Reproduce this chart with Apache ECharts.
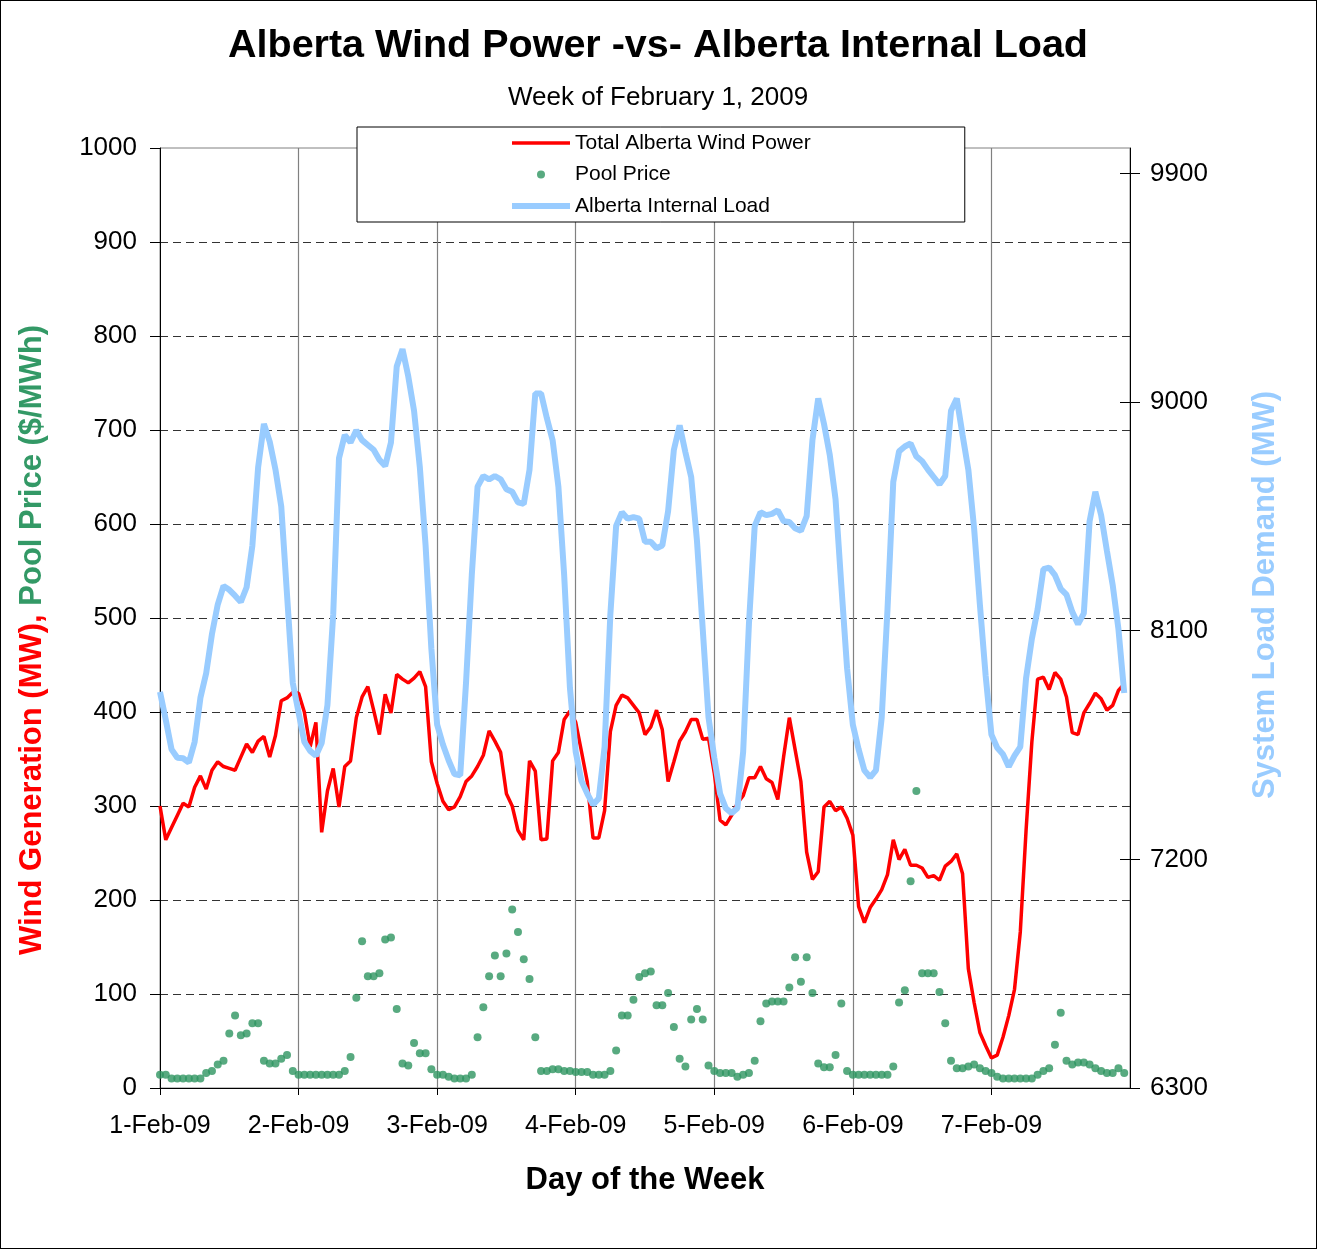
<!DOCTYPE html>
<html><head><meta charset="utf-8">
<script src="https://cdn.jsdelivr.net/npm/echarts@6/dist/echarts.min.js"></script>
<style>
html,body{margin:0;padding:0;background:#fff}
#c{position:absolute;left:0;top:0;width:1317px;height:1249px}
#frame{position:absolute;left:0;top:0;width:1317px;height:1249px;box-sizing:border-box;border:1px solid #000;pointer-events:none}
</style>
</head><body><div id="c"></div><div id="frame"></div><script>
// Day labels at each day boundary (hour 0, 24, ... 144)
const dayLabels = ['1-Feb-09','2-Feb-09','3-Feb-09','4-Feb-09','5-Feb-09','6-Feb-09','7-Feb-09'];
// Hourly Total Alberta Wind Power (MW), 168 hours
const windMW = [
 300,264,277,290,303,299,320,332,318,338,347,342,340,338,352,366,357,369,374,352,375,412,415,421,
 420,400,363,389,272,316,340,299,342,348,394,416,427,402,376,419,399,440,435,431,436,443,427,347,
 324,305,296,299,310,326,332,342,354,380,369,357,313,300,274,264,348,337,264,265,348,357,392,401,
 389,358,326,266,266,295,379,407,418,415,407,399,376,384,402,381,326,347,369,379,392,392,371,372,
 335,285,280,290,303,311,330,330,342,329,325,307,352,394,360,326,251,222,230,299,305,295,299,287,
 269,193,176,192,201,211,227,264,243,254,237,237,234,224,226,221,236,241,249,228,127,91,59,45,
 32,35,54,77,105,166,274,368,435,437,424,442,435,416,378,376,399,409,420,414,402,407,423,430
];
// Hourly Pool Price ($/MWh)
const poolPrice = [
 14,14,10,10,10,10,10,10,16,18,25,29,58,77,56,58,69,69,29,26,26,31,35,18,
 14,14,14,14,14,14,14,14,18,33,96,156,119,119,122,158,160,84,26,24,48,37,37,20,
 14,14,12,10,10,10,14,54,86,119,141,119,143,190,166,137,116,54,18,18,20,20,18,18,
 17,17,17,14,14,14,18,40,77,77,94,118,122,124,88,88,101,65,31,23,73,84,73,24,
 18,16,16,16,12,14,16,29,71,90,92,92,92,107,139,113,139,101,26,22,22,35,90,18,
 14,14,14,14,14,14,14,23,91,104,220,316,122,122,122,102,69,29,21,21,23,25,21,18,
 16,12,10,10,10,10,10,10,14,18,21,46,80,29,25,27,27,25,21,18,16,16,21,16
];
// Hourly Alberta Internal Load (MW)
const internalLoad = [
 7859,7749,7633,7600,7598,7581,7662,7836,7933,8087,8203,8276,8261,8238,8213,8271,8435,8744,8914,8844,8734,8589,8242,7894,
 7778,7662,7627,7608,7658,7807,8164,8779,8870,8841,8889,8850,8831,8812,8773,8748,8841,9140,9208,9101,8966,8744,8435,8029,
 7730,7652,7589,7536,7531,7894,8319,8667,8709,8696,8709,8696,8657,8647,8605,8599,8734,9034,9034,8937,8850,8667,8319,7875,
 7623,7508,7459,7415,7440,7643,8164,8512,8566,8541,8547,8541,8450,8450,8425,8435,8570,8812,8908,8802,8705,8454,8106,7759,
 7600,7459,7401,7382,7401,7623,8126,8512,8566,8555,8560,8574,8531,8528,8503,8493,8551,8850,9014,8914,8792,8618,8280,7952,
 7730,7633,7550,7523,7550,7759,8184,8686,8806,8825,8837,8786,8767,8734,8705,8676,8709,8966,9014,8870,8734,8503,8203,7923,
 7691,7639,7614,7565,7608,7643,7913,8068,8184,8342,8348,8319,8265,8242,8174,8126,8168,8531,8647,8555,8415,8280,8106,7855
];
const loadTicks = [6300,7200,8100,9000,9900];

const FONT = '"Liberation Sans", Arial, sans-serif';
const toPairs = arr => arr.map((v, i) => [i, v]);
const plain = v => String(v);

const chart = echarts.init(document.getElementById('c'), null, {renderer: 'canvas'});
chart.setOption({
  animation: false,
  backgroundColor: '#fff',
  textStyle: {fontFamily: FONT},
  title: [
    {text: 'Alberta Wind Power -vs- Alberta Internal Load', left: 223, top: 21,
     textStyle: {fontFamily: FONT, fontSize: 39.5, fontWeight: 'bold', color: '#000'}},
    {text: 'Week of February 1, 2009', left: 503, top: 80,
     textStyle: {fontFamily: FONT, fontSize: 26, fontWeight: 'normal', color: '#000'}}
  ],
  legend: {
    orient: 'vertical', left: 357, top: 127,
    padding: [4, 154, 4, 155],
    backgroundColor: '#fff', borderColor: '#000', borderWidth: 1, borderRadius: 0,
    itemWidth: 58, itemHeight: 8, itemGap: 7.5,
    textStyle: {fontFamily: FONT, fontSize: 21, color: '#000', lineHeight: 24},
    data: [
      {name: 'Total Alberta Wind Power', icon: 'path://M0 0H58V3.5H0Z'},
      {name: 'Pool Price', icon: 'circle'},
      {name: 'Alberta Internal Load', icon: 'path://M0 0H58V6H0Z'}
    ],
    z: 10
  },
  grid: {left: 160, top: 148, width: 970, height: 940, show: true, borderColor: '#808080', borderWidth: 1, backgroundColor: 'transparent'},
  xAxis: {
    type: 'value', min: 0, max: 168, interval: 24,
    axisLine: {show: true, lineStyle: {color: '#000', width: 1}},
    axisTick: {show: true, length: 7, lineStyle: {color: '#000'}},
    axisLabel: {margin: 26, fontSize: 25, color: '#000', fontFamily: FONT, showMaxLabel: false,
      formatter: v => dayLabels[v / 24] || ''},
    splitLine: {show: true, showMinLine: false, showMaxLine: false, lineStyle: {color: '#808080', width: 1.2, type: 'solid'}}
  },
  yAxis: [
    {type: 'value', position: 'left', min: 0, max: 1000, interval: 100,
     axisLine: {show: true, lineStyle: {color: '#000', width: 1}},
     axisTick: {show: true, length: 10, lineStyle: {color: '#000'}},
     axisLabel: {margin: 23, fontSize: 26, color: '#000', fontFamily: FONT, formatter: plain},
     splitLine: {show: true, showMinLine: false, showMaxLine: false, lineStyle: {color: '#333', width: 1, type: [8, 5]}}},
    {type: 'value', position: 'right', min: 6300, max: 10000, interval: 900,
     axisLine: {show: true, lineStyle: {color: '#000', width: 1}},
     axisTick: {show: true, length: 10, lineStyle: {color: '#000'}, customValues: loadTicks},
     axisLabel: {margin: 20, fontSize: 26, color: '#000', fontFamily: FONT, customValues: loadTicks, formatter: plain},
     splitLine: {show: false}},
    {type: 'value', position: 'right', min: 6300, max: 10000, interval: 900,
     axisLine: {show: false},
     axisTick: {show: true, inside: true, length: 10, lineStyle: {color: '#000'}, customValues: loadTicks},
     axisLabel: {show: false},
     splitLine: {show: false}}
  ],
  series: [
    {name: 'Total Alberta Wind Power', type: 'line', yAxisIndex: 0, data: toPairs(windMW),
     symbol: 'none', showSymbol: false, color: '#FF0000',
     lineStyle: {color: '#FF0000', width: 3.5}, itemStyle: {color: '#FF0000'}, z: 3},
    {name: 'Pool Price', type: 'scatter', yAxisIndex: 0, data: toPairs(poolPrice),
     symbol: 'circle', symbolSize: 8, color: '#2E9560', itemStyle: {color: '#2E9560'}, z: 5},
    {name: 'Alberta Internal Load', type: 'line', yAxisIndex: 1, data: toPairs(internalLoad),
     symbol: 'none', showSymbol: false, color: '#99CCFF',
     lineStyle: {color: '#99CCFF', width: 6}, itemStyle: {color: '#99CCFF'}, z: 4}
  ],
  graphic: [
    {type: 'text', x: 32, y: 640, rotation: Math.PI / 2,
     style: {text: '{r|Wind Generation (MW),} {g|Pool Price ($/MWh)}',
       align: 'center', verticalAlign: 'middle', textAlign: 'center', textVerticalAlign: 'middle',
       font: 'bold 31px ' + FONT,
       rich: {
         r: {fill: '#FF0000', color: '#FF0000', fontSize: 31, fontWeight: 'bold', fontFamily: FONT},
         g: {fill: '#339966', color: '#339966', fontSize: 31, fontWeight: 'bold', fontFamily: FONT}
       }}},
    {type: 'text', x: 1265, y: 595, rotation: Math.PI / 2,
     style: {text: 'System Load Demand (MW)', fill: '#99CCFF',
       align: 'center', verticalAlign: 'middle', textAlign: 'center', textVerticalAlign: 'middle',
       font: 'bold 31px ' + FONT}},
    {type: 'text', x: 645, y: 1180,
     style: {text: 'Day of the Week', fill: '#000',
       align: 'center', verticalAlign: 'middle', textAlign: 'center', textVerticalAlign: 'middle',
       font: 'bold 31px ' + FONT}}
  ]
});
</script></body></html>
